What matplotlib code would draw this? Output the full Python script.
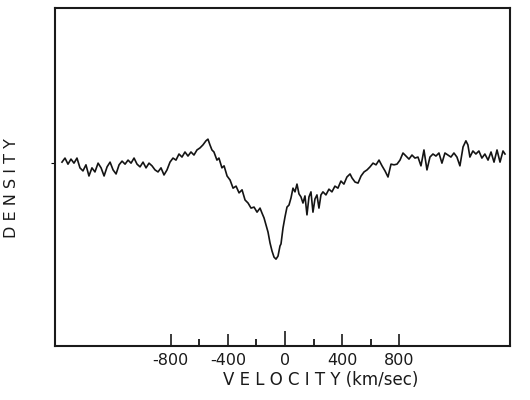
import matplotlib
matplotlib.use("Agg")
import matplotlib.pyplot as plt

velocity = [
    -1563, -1542, -1521, -1500, -1479, -1458, -1437, -1416, -1395, -1374,
    -1353, -1332, -1310, -1289, -1268, -1247, -1226, -1205, -1184, -1163,
    -1142, -1121, -1100, -1079, -1058, -1037, -1016, -995, -974, -953,
    -932, -911, -890, -869, -848, -827, -806, -785, -764, -743,
    -722, -701, -680, -659, -638, -617, -596, -575, -554, -540,
    -526, -512, -498, -477, -463, -442, -427, -406, -385, -364,
    -343, -322, -301, -280, -259, -238, -217, -196, -175, -161,
    -147, -133, -119, -105, -91, -77, -63, -49, -35, -28,
    -14, 0, 14, 28, 42, 56, 70, 84, 98, 112,
    126, 140, 154, 168, 182, 196, 210, 224, 238, 252,
    266, 287, 308, 329, 350, 371, 392, 413, 434, 456,
    470, 491, 512, 533, 554, 575, 596, 617, 638, 659,
    680, 701, 722, 743, 764, 785, 806, 827, 848, 869,
    890, 911, 932, 953, 974, 995, 1016, 1037, 1058, 1079,
    1100, 1121, 1142, 1163, 1184, 1205, 1226, 1248, 1268, 1282,
    1296, 1317, 1338, 1359, 1380, 1401, 1423, 1444, 1465, 1486,
    1507, 1528, 1542,
]
density = [
    54.4, 55.6, 53.8, 55.3, 54.1, 55.6, 52.7, 51.8, 53.6, 50.3,
    52.7, 51.5, 54.1, 52.7, 50.3, 53.0, 54.4, 52.1, 50.9, 53.6,
    54.7, 53.8, 55.0, 54.1, 55.6, 53.8, 53.0, 54.4, 52.7, 54.1,
    53.3, 52.1, 51.5, 52.7, 50.6, 52.1, 54.4, 55.6, 55.0, 56.8,
    55.9, 57.4, 56.2, 57.4, 56.5, 58.0, 58.6, 59.5, 60.7, 61.2,
    59.5, 58.0, 57.4, 55.0, 55.6, 52.7, 53.3, 50.3, 49.1, 46.7,
    47.3, 45.3, 46.2, 43.2, 42.3, 40.8, 41.1, 39.6, 40.8, 39.3,
    37.9, 35.8, 33.7, 30.5, 28.1, 26.3, 25.7, 26.6, 29.6, 30.2,
    34.9, 38.2, 41.1, 41.7, 43.8, 46.7, 45.6, 47.9, 45.0, 44.1,
    42.3, 44.4, 38.8, 44.1, 45.6, 39.6, 43.5, 44.7, 40.8, 44.7,
    45.6, 44.7, 46.4, 45.6, 47.3, 46.7, 48.8, 47.9, 50.0, 50.9,
    49.7, 48.5, 48.2, 50.3, 51.5, 52.1, 53.0, 54.1, 53.6, 55.0,
    53.3, 51.8, 50.0, 53.8, 53.6, 53.8, 55.0, 57.1, 56.2, 55.3,
    56.5, 55.6, 55.9, 53.3, 58.0, 52.1, 55.9, 56.8, 56.2, 57.1,
    54.1, 57.1, 56.5, 55.9, 57.1, 55.9, 53.3, 58.9, 60.7, 59.5,
    55.9, 57.7, 56.8, 57.7, 55.6, 56.8, 55.0, 57.4, 54.4, 58.0,
    54.4, 57.7, 56.8,
]

major_ticks = [-800, -400, 0, 400, 800]
major_labels = ["-800", "-400", "0", "400", "800"]
minor_ticks = [-600, -200, 200, 600]

fig = plt.figure(figsize=(5.3, 4.0), dpi=100)
ax = fig.add_axes([55 / 530, 1 - 346 / 400, 455 / 530, 338 / 400])

ax.plot(velocity, density, color="#141414", lw=1.2)

ax.set_xlim(-1612, 1577)
ax.set_ylim(0, 100)

for s in ax.spines.values():
    s.set_linewidth(1.5)
    s.set_color("#1a1a1a")

ax.set_xticks(major_ticks)
ax.set_xticklabels(major_labels)
ax.set_xticks(minor_ticks, minor=True)
ax.tick_params(axis="x", which="major", direction="in", length=9, width=1.2,
               labelsize=11.5, pad=5, colors="#1a1a1a")
ax.tick_params(axis="x", which="minor", direction="in", length=5, width=1.2)
# the zero tick is drawn a bit longer
ax.xaxis.get_major_ticks()[2].tick1line.set_markersize(11)

ax.set_yticks([54])
ax.set_yticklabels([])
ax.tick_params(axis="y", direction="out", length=3, width=0.8)

fig.text(321 / 530, 1 - 380 / 400, "V E L O C I T Y (km/sec)", ha="center",
         va="center", fontsize=12, color="#1a1a1a")
fig.text(12 / 530, 1 - 188 / 400, "D E N S I T Y", ha="center", va="center",
         rotation=90, fontsize=11.5, color="#1a1a1a")

fig.savefig("out.png", dpi=100)
